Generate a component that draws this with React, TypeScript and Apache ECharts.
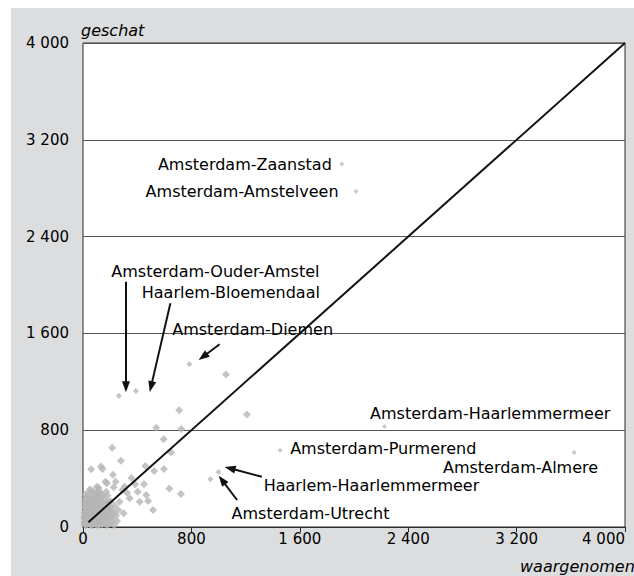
import React, { useEffect, useRef } from "react";
import * as echarts from "echarts";

// Named commuter flows: observed (waargenomen) vs. estimated (geschat)
const namedFlows = [
  "Amsterdam-Zaanstad",
  "Amsterdam-Amstelveen",
  "Amsterdam-Haarlemmermeer",
  "Amsterdam-Purmerend",
  "Amsterdam-Almere",
];
const namedObserved = [1910, 2015, 2225, 1455, 3625];
const namedEstimated = [3000, 2775, 830, 635, 615];

const arrowFlows = [
  "Amsterdam-Ouder-Amstel",
  "Haarlem-Bloemendaal",
  "Amsterdam-Diemen",
  "Haarlem-Haarlemmermeer",
  "Amsterdam-Utrecht",
];
const arrowObserved = [265, 390, 785, 1000, 940];
const arrowEstimated = [1085, 1125, 1345, 455, 395];

// Remaining municipality pairs [observed, estimated]
const otherFlows: [number, number][] = [
  [1055, 1260], [710, 965], [1210, 930], [540, 820], [725, 810], [595, 725],
  [650, 615], [215, 655], [280, 548], [60, 477], [133, 500], [145, 479],
  [460, 504], [525, 463], [597, 479], [221, 432], [357, 404], [165, 374],
  [115, 322], [226, 328], [307, 333], [384, 353], [450, 353], [325, 283],
  [403, 292], [467, 264], [637, 318], [723, 272], [517, 140], [270, 209],
  [196, 209], [300, 113], [251, 50], [189, 140], [418, 209], [480, 215],
  [344, 237], [172, 292], [290, 306], [241, 374], [177, 361], [103, 333],
  [20, 15], [35, 25], [50, 30], [25, 45], [45, 60], [60, 50], [30, 80],
  [55, 90], [75, 70], [40, 110], [70, 115], [90, 95], [20, 130], [50, 140],
  [85, 145], [105, 120], [35, 170], [65, 180], [95, 185], [120, 160],
  [15, 200], [45, 215], [80, 225], [110, 210], [30, 250], [60, 260],
  [95, 255], [130, 240], [75, 290], [50, 310], [15, 95], [10, 40], [25, 160],
  [140, 200], [150, 150], [165, 185], [120, 85], [135, 110], [100, 60],
  [80, 35], [115, 40], [150, 60], [175, 90], [185, 130], [200, 170],
  [160, 40], [190, 25], [210, 70], [225, 110], [140, 20], [110, 15],
  [65, 12], [40, 190], [70, 235], [100, 280], [20, 270], [55, 230],
  [130, 280], [155, 230], [180, 260], [125, 195], [90, 160], [60, 155],
  [30, 60], [85, 55], [170, 150], [205, 210], [235, 175], [245, 95],
  [260, 140], [215, 45], [230, 15], [175, 15], [95, 20], [45, 80],
  [120, 130], [75, 135], [160, 110], [200, 100], [185, 60],
  [12, 25], [28, 35], [42, 42], [18, 62], [38, 72], [62, 65], [52, 78],
  [28, 100], [48, 118], [65, 98], [82, 110], [100, 100], [12, 115],
  [38, 135], [62, 128], [78, 160], [100, 145], [22, 185], [55, 195],
  [72, 205], [92, 215], [38, 230], [85, 245], [110, 240], [42, 280],
  [65, 300], [18, 230], [115, 180], [135, 165], [150, 105], [165, 130],
  [130, 60], [145, 85], [105, 85], [90, 75], [70, 45], [55, 20],
  [120, 20], [160, 75], [195, 150], [215, 135], [180, 200], [145, 260],
  [115, 300], [88, 270], [15, 165], [8, 75],
];

// Line of perfect agreement (estimated = observed)
const diagonalRange = [40, 4000];

const axisTicks = { min: 0, max: 4000, interval: 800 };

// Text anchors for the annotations, in data coordinates
const annotationAnchors: { name: string; at: [number, number]; side: "left" | "right" }[] = [
  { name: "Amsterdam-Zaanstad", at: [1840, 3000], side: "left" },
  { name: "Amsterdam-Amstelveen", at: [1890, 2775], side: "left" },
  { name: "Amsterdam-Ouder-Amstel", at: [205, 2110], side: "right" },
  { name: "Haarlem-Bloemendaal", at: [430, 1935], side: "right" },
  { name: "Amsterdam-Diemen", at: [655, 1630], side: "right" },
  { name: "Amsterdam-Haarlemmermeer", at: [2115, 940], side: "right" },
  { name: "Amsterdam-Purmerend", at: [1525, 650], side: "right" },
  { name: "Amsterdam-Almere", at: [3805, 495], side: "left" },
  { name: "Haarlem-Haarlemmermeer", at: [1330, 340], side: "right" },
  { name: "Amsterdam-Utrecht", at: [2265, 113], side: "left" },
];

// Arrows from label to point: [tail, tip]
const arrows: [[number, number], [number, number]][] = [
  [[317, 2027], [317, 1160]],
  [[645, 1849], [502, 1160]],
  [[1008, 1510], [886, 1407]],
  [[1320, 415], [1085, 485]],
  [[1137, 223], [1026, 388]],
];

const FONT = "DejaVu Sans, Liberation Sans, sans-serif";
const TEXT = "#000000";

const formatThousands = (v: number) => {
  if (v < 1000) return String(v);
  const k = Math.floor(v / 1000);
  const r = String(v % 1000).padStart(3, "0");
  return `${k} ${r}`;
};

export default function App() {
  const ref = useRef<HTMLDivElement>(null);

  useEffect(() => {
    if (!ref.current) return;
    const chart = echarts.init(ref.current, undefined, { renderer: "svg" });

    const option: any = {
      animation: false,
      backgroundColor: "transparent",
      grid: {
        left: 72,
        right: 9,
        top: 35,
        bottom: 49,
        containLabel: false,
        outerBoundsMode: "none",
        show: true,
        backgroundColor: "#ffffff",
        borderColor: "#2b2b2b",
        borderWidth: 1,
      },
      xAxis: {
        type: "value",
        ...axisTicks,
        axisLine: { show: true, lineStyle: { color: "#2b2b2b", width: 1 } },
        axisTick: { show: true, length: 5, lineStyle: { color: "#2b2b2b" } },
        axisLabel: {
          margin: 4,
          color: TEXT,
          fontSize: 15,
          fontFamily: FONT,
          hideOverlap: false,
          alignMaxLabel: "right",
          formatter: formatThousands,
        },
        splitLine: { show: false },
      },
      yAxis: {
        type: "value",
        ...axisTicks,
        axisLine: { show: false },
        axisTick: { show: false },
        axisLabel: {
          margin: 14,
          color: TEXT,
          fontSize: 15,
          fontFamily: FONT,
          formatter: formatThousands,
        },
        splitLine: { show: true, lineStyle: { color: "#555555", width: 1 } },
      },
      graphic: [
        {
          type: "text",
          left: 70,
          top: 14,
          style: {
            text: "geschat",
            fill: TEXT,
            font: `italic 16px ${FONT}`,
          },
        },
        {
          type: "text",
          x: 509,
          y: 550,
          style: {
            text: "waargenomen",
            fill: TEXT,
            font: `italic 16px ${FONT}`,
          },
        },
      ],
      series: [
        {
          type: "scatter",
          name: "overig",
          symbol: "diamond",
          symbolSize: 8,
          itemStyle: { color: "#b5b5b5" },
          data: otherFlows,
          z: 2,
        },
        {
          type: "scatter",
          name: "pijlen",
          symbol: "diamond",
          symbolSize: 6,
          itemStyle: { color: "#b5b5b5" },
          data: arrowFlows.map((n, i) => ({ name: n, value: [arrowObserved[i], arrowEstimated[i]] })),
          z: 2,
        },
        {
          type: "scatter",
          name: "grootste",
          symbol: "diamond",
          symbolSize: 5,
          itemStyle: { color: "#bdbdbd" },
          data: namedFlows.map((n, i) => ({ name: n, value: [namedObserved[i], namedEstimated[i]] })),
          z: 2,
        },
        {
          type: "line",
          name: "diagonaal",
          symbol: "none",
          lineStyle: { color: "#111111", width: 2 },
          data: diagonalRange.map((v) => [v, v]),
          z: 3,
        },
        {
          type: "scatter",
          name: "labels",
          symbolSize: 1,
          itemStyle: { color: "transparent" },
          silent: true,
          z: 4,
          data: annotationAnchors.map((a) => ({
            name: a.name,
            value: a.at,
            label: {
              show: true,
              formatter: "{b}",
              position: a.side,
              distance: 0,
              color: TEXT,
              opacity: 1,
              fontSize: 16,
              fontFamily: FONT,
            },
          })),
          markLine: {
            silent: true,
            symbol: ["none", "triangle"],
            symbolSize: [8, 11],
            label: { show: false },
            lineStyle: { color: "#111111", width: 2, type: "solid" },
            data: arrows.map(([tail, tip]) => [{ coord: tail }, { coord: tip }]),
          },
        },
      ],
    };

    chart.setOption(option);
    return () => chart.dispose();
  }, []);

  return (
    <div
      style={{
        position: "fixed",
        left: 0,
        top: 0,
        width: 634,
        height: 576,
        background: "#ffffff",
        overflow: "hidden",
      }}
    >
      <div
        ref={ref}
        style={{
          position: "absolute",
          left: 11,
          top: 8,
          width: 623,
          height: 568,
          background: "#dcdddf",
        }}
      />
    </div>
  );
}
